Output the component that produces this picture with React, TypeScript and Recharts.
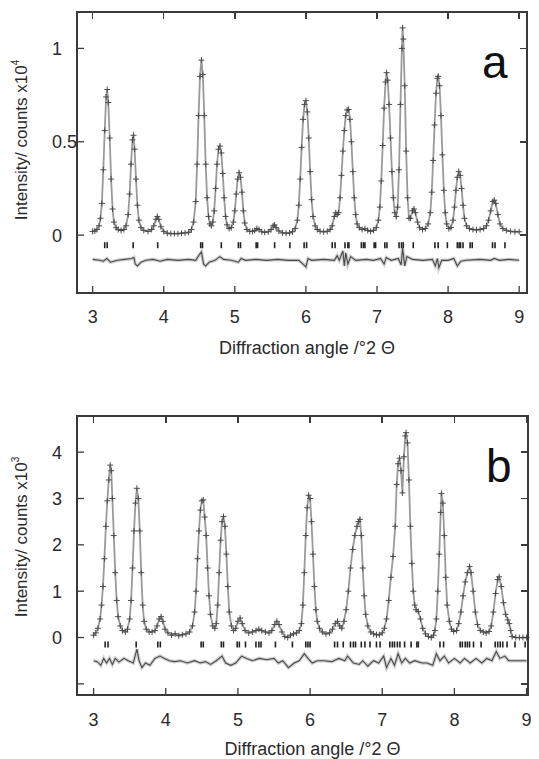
import React from 'react';
import { ComposedChart, Line, Scatter, XAxis, YAxis } from 'recharts';

// Panel a: observed profile (2θ, counts x10^4)
const OBS_A: [number, number][] = [
  [3.00, 0.020], [3.03, 0.022], [3.06, 0.030], [3.09, 0.050], [3.11, 0.090], [3.13, 0.170],
  [3.15, 0.350], [3.17, 0.560], [3.19, 0.740], [3.205, 0.780], [3.22, 0.710], [3.24, 0.520],
  [3.26, 0.300], [3.28, 0.140], [3.30, 0.070], [3.33, 0.040], [3.36, 0.030], [3.40, 0.025],
  [3.44, 0.030], [3.47, 0.050], [3.50, 0.110], [3.52, 0.220], [3.54, 0.380], [3.56, 0.510],
  [3.575, 0.535], [3.59, 0.460], [3.61, 0.300], [3.63, 0.160], [3.65, 0.080], [3.68, 0.040],
  [3.72, 0.025], [3.78, 0.020], [3.83, 0.030], [3.86, 0.050], [3.89, 0.085], [3.91, 0.100],
  [3.93, 0.085], [3.96, 0.045], [4.00, 0.020], [4.05, 0.010], [4.10, 0.008], [4.15, 0.008],
  [4.20, 0.008], [4.25, 0.010], [4.30, 0.012], [4.35, 0.015], [4.39, 0.030], [4.42, 0.070],
  [4.45, 0.180], [4.47, 0.380], [4.49, 0.640], [4.51, 0.850], [4.53, 0.937], [4.55, 0.860],
  [4.57, 0.640], [4.59, 0.380], [4.61, 0.200], [4.63, 0.100], [4.65, 0.060], [4.67, 0.050],
  [4.69, 0.070], [4.71, 0.130], [4.73, 0.250], [4.75, 0.380], [4.77, 0.460], [4.79, 0.477],
  [4.81, 0.440], [4.83, 0.330], [4.85, 0.200], [4.87, 0.100], [4.89, 0.055], [4.92, 0.035],
  [4.95, 0.040], [4.98, 0.070], [5.00, 0.130], [5.02, 0.220], [5.04, 0.300], [5.06, 0.334],
  [5.08, 0.310], [5.10, 0.230], [5.12, 0.130], [5.14, 0.065], [5.17, 0.030], [5.21, 0.020],
  [5.25, 0.020], [5.28, 0.025], [5.31, 0.035], [5.34, 0.030], [5.38, 0.018], [5.42, 0.015],
  [5.47, 0.018], [5.51, 0.030], [5.54, 0.050], [5.56, 0.054], [5.58, 0.040], [5.62, 0.022],
  [5.67, 0.012], [5.72, 0.010], [5.77, 0.012], [5.81, 0.018], [5.85, 0.035], [5.88, 0.080],
  [5.90, 0.160], [5.92, 0.300], [5.94, 0.470], [5.96, 0.620], [5.98, 0.700], [6.00, 0.720],
  [6.02, 0.660], [6.04, 0.520], [6.06, 0.340], [6.08, 0.190], [6.10, 0.100], [6.13, 0.050],
  [6.16, 0.030], [6.20, 0.020], [6.25, 0.018], [6.30, 0.020], [6.34, 0.030], [6.37, 0.050],
  [6.40, 0.100], [6.42, 0.120], [6.44, 0.110], [6.46, 0.120], [6.48, 0.200], [6.50, 0.320],
  [6.52, 0.450], [6.54, 0.560], [6.56, 0.640], [6.58, 0.670], [6.60, 0.673], [6.62, 0.620],
  [6.64, 0.500], [6.66, 0.340], [6.68, 0.200], [6.70, 0.110], [6.72, 0.060], [6.75, 0.040],
  [6.79, 0.030], [6.83, 0.035], [6.87, 0.025], [6.91, 0.020], [6.95, 0.025], [6.99, 0.040],
  [7.02, 0.080], [7.04, 0.150], [7.06, 0.290], [7.08, 0.480], [7.10, 0.680], [7.12, 0.820],
  [7.135, 0.870], [7.15, 0.830], [7.17, 0.700], [7.19, 0.520], [7.21, 0.340], [7.23, 0.200],
  [7.25, 0.120], [7.27, 0.100], [7.29, 0.150], [7.31, 0.350], [7.33, 0.700], [7.35, 1.000],
  [7.36, 1.110], [7.37, 1.050], [7.39, 0.800], [7.41, 0.450], [7.43, 0.200], [7.45, 0.090],
  [7.47, 0.090], [7.50, 0.130], [7.52, 0.140], [7.54, 0.120], [7.57, 0.070], [7.60, 0.040],
  [7.64, 0.030], [7.68, 0.035], [7.72, 0.060], [7.75, 0.120], [7.77, 0.230], [7.79, 0.400],
  [7.81, 0.590], [7.83, 0.760], [7.85, 0.840], [7.86, 0.850], [7.88, 0.800], [7.90, 0.640],
  [7.92, 0.430], [7.94, 0.240], [7.96, 0.120], [7.98, 0.060], [8.01, 0.035], [8.04, 0.040],
  [8.07, 0.080], [8.09, 0.150], [8.11, 0.240], [8.13, 0.310], [8.15, 0.340], [8.17, 0.320],
  [8.19, 0.250], [8.21, 0.160], [8.23, 0.090], [8.26, 0.050], [8.30, 0.035], [8.35, 0.030],
  [8.40, 0.028], [8.45, 0.030], [8.50, 0.035], [8.54, 0.050], [8.57, 0.080], [8.60, 0.130],
  [8.63, 0.180], [8.65, 0.187], [8.67, 0.170], [8.70, 0.110], [8.73, 0.060], [8.77, 0.035],
  [8.82, 0.025], [8.88, 0.020], [8.94, 0.018], [9.00, 0.018],
];

// Panel a: obs - calc residual
const DIFF_A: [number, number][] = [
  [3.00, 0.005], [3.10, 0.000], [3.15, -0.005], [3.20, 0.010], [3.25, -0.010], [3.35, 0.000],
  [3.45, 0.005], [3.55, 0.010], [3.58, 0.015], [3.60, -0.020], [3.63, -0.030], [3.68, -0.010],
  [3.75, 0.000], [3.85, 0.005], [3.95, -0.005], [4.05, 0.005], [4.20, 0.000], [4.35, 0.005],
  [4.45, 0.000], [4.50, 0.030], [4.53, 0.045], [4.56, -0.020], [4.59, -0.030], [4.64, -0.010],
  [4.72, 0.000], [4.79, 0.020], [4.84, 0.005], [4.95, 0.000], [5.05, -0.010], [5.09, 0.010],
  [5.15, 0.000], [5.30, 0.005], [5.45, 0.000], [5.60, 0.005], [5.75, 0.000], [5.90, 0.000],
  [5.96, -0.020], [6.00, -0.035], [6.03, 0.010], [6.08, 0.000], [6.25, 0.005], [6.40, 0.000],
  [6.44, 0.025], [6.47, 0.000], [6.52, 0.050], [6.54, -0.030], [6.56, 0.040], [6.59, -0.020],
  [6.63, 0.020], [6.70, 0.000], [6.85, 0.005], [6.95, 0.000], [7.05, 0.010], [7.10, -0.020],
  [7.13, 0.015], [7.20, 0.000], [7.30, 0.010], [7.34, -0.025], [7.36, 0.065], [7.39, -0.030],
  [7.42, 0.020], [7.50, 0.005], [7.65, 0.000], [7.78, 0.005], [7.82, -0.030], [7.85, 0.010],
  [7.87, -0.040], [7.91, 0.000], [8.00, 0.000], [8.08, 0.010], [8.13, -0.030], [8.18, -0.005],
  [8.25, 0.000], [8.45, 0.005], [8.60, 0.000], [8.65, 0.010], [8.72, 0.000], [8.85, 0.005],
  [9.00, 0.000],
];

// Panel a: reflection positions
const REFL_A = [
  3.17, 3.205, 3.57, 3.915, 4.52, 4.545, 4.81, 5.05, 5.08, 5.30, 5.32, 5.56, 5.775,
  5.975, 6.01, 6.37, 6.41, 6.55, 6.59, 6.605, 6.78, 6.81, 6.83, 6.96, 6.98, 7.11, 7.14,
  7.31, 7.345, 7.37, 7.51, 7.815, 7.86, 7.99, 8.13, 8.155, 8.175, 8.21, 8.31, 8.34,
  8.625, 8.66, 8.80,
];

// Panel b: observed profile (2θ, counts x10^3)
const OBS_B: [number, number][] = [
  [3.00, 0.05], [3.03, 0.10], [3.06, 0.20], [3.09, 0.40], [3.11, 0.70], [3.13, 1.10],
  [3.15, 1.70], [3.17, 2.40], [3.19, 2.95], [3.21, 3.40], [3.23, 3.72], [3.245, 3.60],
  [3.26, 3.00], [3.28, 2.20], [3.30, 1.40], [3.32, 0.80], [3.34, 0.45], [3.37, 0.25],
  [3.40, 0.15], [3.44, 0.12], [3.47, 0.18], [3.50, 0.40], [3.52, 0.80], [3.54, 1.50],
  [3.56, 2.30], [3.58, 2.90], [3.60, 3.22], [3.62, 3.00], [3.64, 2.30], [3.66, 1.40],
  [3.68, 0.70], [3.70, 0.35], [3.73, 0.18], [3.77, 0.12], [3.81, 0.12], [3.85, 0.15],
  [3.88, 0.25], [3.91, 0.40], [3.935, 0.45], [3.96, 0.35], [3.99, 0.18], [4.03, 0.10],
  [4.08, 0.05], [4.13, 0.08], [4.18, 0.04], [4.23, 0.06], [4.28, 0.08], [4.33, 0.12],
  [4.37, 0.25], [4.40, 0.55], [4.42, 1.00], [4.44, 1.70], [4.46, 2.30], [4.48, 2.75],
  [4.50, 2.95], [4.52, 2.97], [4.54, 2.60], [4.56, 2.20], [4.58, 1.50], [4.60, 0.90],
  [4.62, 0.50], [4.65, 0.25], [4.68, 0.20], [4.70, 0.30], [4.72, 0.70], [4.74, 1.40],
  [4.76, 2.10], [4.78, 2.50], [4.80, 2.61], [4.82, 2.40], [4.84, 1.80], [4.86, 1.10],
  [4.88, 0.55], [4.91, 0.25], [4.94, 0.15], [4.97, 0.20], [5.00, 0.35], [5.03, 0.42],
  [5.06, 0.30], [5.10, 0.15], [5.15, 0.10], [5.20, 0.12], [5.25, 0.15], [5.29, 0.18],
  [5.33, 0.15], [5.38, 0.12], [5.43, 0.10], [5.47, 0.15], [5.51, 0.28], [5.54, 0.35],
  [5.57, 0.28], [5.61, 0.12], [5.65, 0.02], [5.69, 0.00], [5.73, 0.05], [5.77, 0.08],
  [5.81, 0.10], [5.85, 0.15], [5.88, 0.30], [5.90, 0.70], [5.92, 1.40], [5.94, 2.20],
  [5.96, 2.80], [5.98, 3.07], [6.00, 3.00], [6.02, 2.50], [6.04, 1.80], [6.06, 1.10],
  [6.08, 0.60], [6.10, 0.35], [6.13, 0.20], [6.17, 0.12], [6.22, 0.08], [6.27, 0.10],
  [6.31, 0.18], [6.35, 0.30], [6.38, 0.35], [6.41, 0.25], [6.44, 0.20], [6.47, 0.35],
  [6.50, 0.60], [6.53, 1.00], [6.56, 1.50], [6.59, 1.90], [6.62, 2.20], [6.65, 2.40],
  [6.67, 2.50], [6.69, 2.55], [6.71, 2.20], [6.73, 1.50], [6.75, 0.90], [6.77, 0.50],
  [6.80, 0.25], [6.84, 0.12], [6.88, 0.08], [6.92, 0.06], [6.96, 0.06], [7.00, 0.10],
  [7.03, 0.20], [7.06, 0.40], [7.09, 0.80], [7.12, 1.30], [7.15, 1.75], [7.18, 2.40],
  [7.20, 3.30], [7.22, 3.75], [7.24, 3.87], [7.26, 3.60], [7.28, 3.12], [7.30, 3.90],
  [7.32, 4.35], [7.33, 4.42], [7.35, 4.20], [7.37, 3.40], [7.39, 2.40], [7.41, 1.60],
  [7.43, 1.00], [7.45, 0.70], [7.47, 0.60], [7.50, 0.56], [7.53, 0.40], [7.56, 0.20],
  [7.60, 0.08], [7.64, 0.02], [7.68, 0.00], [7.71, 0.05], [7.73, 0.15], [7.75, 0.40],
  [7.77, 1.00], [7.79, 1.80], [7.81, 2.70], [7.82, 3.11], [7.84, 2.90], [7.86, 2.20],
  [7.88, 1.30], [7.90, 0.70], [7.93, 0.35], [7.96, 0.18], [7.99, 0.13], [8.03, 0.15],
  [8.06, 0.30], [8.09, 0.55], [8.12, 0.90], [8.15, 1.20], [8.18, 1.40], [8.21, 1.53],
  [8.23, 1.40], [8.26, 1.00], [8.29, 0.55], [8.32, 0.28], [8.36, 0.15], [8.40, 0.12],
  [8.44, 0.10], [8.48, 0.13], [8.51, 0.25], [8.54, 0.55], [8.57, 0.95], [8.60, 1.25],
  [8.62, 1.31], [8.65, 1.10], [8.68, 0.75], [8.71, 0.50], [8.74, 0.38], [8.76, 0.30],
  [8.78, 0.15], [8.80, 0.02], [8.85, 0.00], [8.90, 0.00], [8.95, 0.00], [9.00, 0.00],
];

// Panel b: obs - calc residual
const DIFF_B: [number, number][] = [
  [3.00, 0.00], [3.05, -0.02], [3.10, -0.10], [3.14, 0.05], [3.18, -0.05], [3.22, 0.05],
  [3.26, -0.08], [3.30, 0.05], [3.35, -0.03], [3.42, 0.05], [3.48, 0.00], [3.55, -0.05],
  [3.60, 0.25], [3.63, 0.00], [3.67, -0.15], [3.72, -0.05], [3.78, -0.10], [3.85, 0.05],
  [3.92, 0.10], [3.98, 0.05], [4.05, 0.00], [4.12, -0.02], [4.20, 0.00], [4.30, -0.05],
  [4.40, 0.00], [4.48, -0.05], [4.55, -0.02], [4.62, -0.08], [4.70, 0.00], [4.78, 0.10],
  [4.83, -0.05], [4.90, -0.10], [4.97, -0.05], [5.05, 0.10], [5.12, 0.05], [5.20, 0.00],
  [5.30, 0.05], [5.40, 0.02], [5.50, 0.05], [5.56, -0.05], [5.62, 0.00], [5.70, -0.15],
  [5.78, -0.05], [5.85, 0.00], [5.92, 0.15], [5.97, 0.05], [6.03, -0.05], [6.10, 0.00],
  [6.20, 0.00], [6.30, -0.02], [6.40, 0.05], [6.48, 0.00], [6.52, 0.10], [6.60, -0.05],
  [6.68, -0.08], [6.73, 0.00], [6.80, -0.12], [6.88, 0.00], [6.95, -0.05], [7.02, 0.10],
  [7.06, -0.15], [7.12, 0.05], [7.17, -0.10], [7.22, 0.15], [7.27, -0.05], [7.32, 0.05],
  [7.38, -0.05], [7.45, 0.00], [7.55, -0.05], [7.62, -0.05], [7.70, -0.10], [7.75, 0.15],
  [7.80, 0.00], [7.86, 0.10], [7.92, -0.05], [8.00, 0.05], [8.08, -0.05], [8.14, 0.05],
  [8.22, -0.05], [8.30, 0.05], [8.38, -0.05], [8.45, 0.05], [8.52, 0.00], [8.58, 0.20],
  [8.63, 0.05], [8.70, 0.10], [8.75, 0.00], [8.85, 0.00], [9.00, 0.00],
];

// Panel b: reflection positions
const REFL_B = [
  3.16, 3.20, 3.59, 3.89, 3.925, 4.49, 4.52, 4.77, 4.80, 4.99, 5.02, 5.105, 5.25, 5.29,
  5.32, 5.52, 5.755, 5.94, 5.97, 6.00, 6.34, 6.38, 6.46, 6.56, 6.60, 6.63, 6.71, 6.76,
  6.83, 6.92, 6.97, 7.105, 7.14, 7.17, 7.21, 7.245, 7.31, 7.40, 7.48, 7.50, 7.80, 7.85,
  8.08, 8.11, 8.15, 8.18, 8.21, 8.265, 8.37, 8.565, 8.60, 8.635, 8.67, 8.73, 8.84, 8.98,
];

const X_TICKS = [3, 4, 5, 6, 7, 8, 9];
const Y_TICKS_A = [0, 0.5, 1];
const Y_TICKS_B = [-1, 0, 1, 2, 3, 4];

const W = 539;
const Y_AXIS_W = 77;
const FONT = 'Liberation Sans, Arial, Helvetica, sans-serif';
const INK = '#2a2a2a';
const FRAME = '#3a3a3a';
const TICK = 7;

const toPts = (rows: [number, number][], shift = 0) => rows.map(([x, y]) => ({ x, y: y + shift }));

const Cross = (props: any) => {
  const { cx, cy } = props;
  if (cx == null || cy == null) return null;
  return (
    <g stroke="#4a4a4a" strokeWidth={1}>
      <line x1={cx - 3} x2={cx + 3} y1={cy} y2={cy} />
      <line x1={cx} x2={cx} y1={cy - 3} y2={cy + 3} />
    </g>
  );
};

const Bar = (props: any) => {
  const { cx, cy } = props;
  if (cx == null || cy == null) return null;
  return <line x1={cx} x2={cx} y1={cy - 3} y2={cy + 3} stroke="#222" strokeWidth={1.6} />;
};

// tickSize is negative (ticks point inward), so the label anchor sits TICK px inside
const bottomTick = (dy: number) => (props: any) => {
  const { x, y, payload } = props;
  return (
    <text x={x} y={y + TICK + dy} textAnchor="middle" fontSize={18} fontFamily={FONT} fill={INK}>
      {payload.value}
    </text>
  );
};

const leftTick = (hide: number[]) => (props: any) => {
  const { x, y, payload } = props;
  if (hide.includes(payload.value)) return <g />;
  return (
    <text x={x - TICK - 25} y={y + 6.5} textAnchor="start" fontSize={18} fontFamily={FONT} fill={INK}>
      {payload.value}
    </text>
  );
};

interface PanelProps {
  top: number;
  height: number;
  margin: { top: number; right: number; bottom: number; left: number };
  xAxisHeight: number;
  xDomain: [number, number];
  yDomain: [number, number];
  yTicks: number[];
  hideY: number[];
  obs: [number, number][];
  diff: [number, number][];
  diffOffset: number;
  refl: number[];
  reflY: number;
  exponent: string;
  letter: string;
  letterPos: [number, number];
  yLabelCenter: number;
  tickDy: number;
  xLabelDy: number;
  xLabelShift: number;
}

// box border (plain css) plus mirrored ticks on the top and right sides
function FrameOverlay(p: PanelProps) {
  const left = p.margin.left + Y_AXIS_W;
  const right = W - p.margin.right;
  const top = p.margin.top;
  const bottom = p.height - p.xAxisHeight;
  const sx = (v: number) => left + ((v - p.xDomain[0]) / (p.xDomain[1] - p.xDomain[0])) * (right - left);
  const sy = (v: number) => bottom - ((v - p.yDomain[0]) / (p.yDomain[1] - p.yDomain[0])) * (bottom - top);
  return (
    <>
      <div
        style={{
          position: 'absolute',
          left: left - 1,
          top: top - 1,
          width: right - left + 2,
          height: bottom - top + 2,
          border: `2px solid ${FRAME}`,
          boxSizing: 'border-box',
          pointerEvents: 'none',
        }}
      />
      {X_TICKS.map((v) => (
        <div
          key={`t${v}`}
          style={{ position: 'absolute', left: sx(v) - 0.75, top, width: 1.5, height: TICK, background: FRAME }}
        />
      ))}
      {p.yTicks.map((v) => (
        <div
          key={`r${v}`}
          style={{ position: 'absolute', left: right - TICK, top: sy(v) - 0.75, width: TICK, height: 1.5, background: FRAME }}
        />
      ))}
    </>
  );
}

function Panel(p: PanelProps) {
  const obs = toPts(p.obs);
  const diff = toPts(p.diff, p.diffOffset);
  const refl = p.refl.map((x) => ({ x, y: p.reflY }));
  const axisLine = { stroke: FRAME, strokeWidth: 1.5 };
  const tickLine = { stroke: FRAME, strokeWidth: 1.3 };

  return (
    <div style={{ position: 'absolute', left: 0, top: p.top, width: W, height: p.height }}>
      <ComposedChart width={W} height={p.height} margin={p.margin}>
        <XAxis
          dataKey="x"
          type="number"
          domain={p.xDomain}
          ticks={X_TICKS}
          height={p.xAxisHeight}
          tickSize={-TICK}
          tickMargin={0}
          tickLine={tickLine}
          axisLine={axisLine}
          tick={bottomTick(p.tickDy)}
          label={{
            content: (lp: any) => {
              const vb = lp.viewBox;
              return (
                <g>
                  <text
                    x={vb.x + vb.width / 2 + p.xLabelShift}
                    y={vb.y + p.xLabelDy}
                    textAnchor="middle"
                    fontSize={18}
                    fontFamily={FONT}
                    fill={INK}
                  >
                    Diffraction angle /°2 Θ
                  </text>
                  <text x={p.letterPos[0]} y={p.letterPos[1]} fontSize={46} fontFamily={FONT} fill="#111">
                    {p.letter}
                  </text>
                </g>
              );
            },
          }}
        />
        <YAxis
          dataKey="y"
          type="number"
          domain={p.yDomain}
          ticks={p.yTicks}
          width={Y_AXIS_W}
          tickSize={-TICK}
          tickMargin={0}
          tickLine={tickLine}
          axisLine={axisLine}
          tick={leftTick(p.hideY)}
          label={{
            content: () => (
              <text
                x={27}
                y={p.yLabelCenter}
                transform={`rotate(-90 27 ${p.yLabelCenter})`}
                textAnchor="middle"
                fontSize={17}
                fontFamily={FONT}
                fill={INK}
              >
                Intensity/ counts x10
                <tspan dy={-8} fontSize={10}>
                  {p.exponent}
                </tspan>
              </text>
            ),
          }}
        />
        <Line
          data={diff}
          dataKey="y"
          type="linear"
          stroke="#cfcfcf"
          strokeWidth={3.5}
          dot={false}
          isAnimationActive={false}
        />
        <Line
          data={diff}
          dataKey="y"
          type="linear"
          stroke="#4a4a4a"
          strokeWidth={1.1}
          dot={false}
          isAnimationActive={false}
        />
        <Line
          data={obs}
          dataKey="y"
          type="linear"
          stroke="#9a9a9a"
          strokeWidth={1.8}
          dot={false}
          isAnimationActive={false}
        />
        <Scatter data={obs} dataKey="y" shape={Cross} isAnimationActive={false} />
        <Scatter data={refl} dataKey="y" shape={Bar} isAnimationActive={false} />
      </ComposedChart>
      <FrameOverlay {...p} />
    </div>
  );
}

export default function App() {
  return (
    <div style={{ position: 'absolute', left: 0, top: 0, width: W, height: 759, background: '#fff' }}>
      <Panel
        top={0}
        height={380}
        margin={{ top: 12, right: 12, bottom: 0, left: 0 }}
        xAxisHeight={87}
        xDomain={[2.78, 9.11]}
        yDomain={[-0.31, 1.195]}
        yTicks={Y_TICKS_A}
        hideY={[]}
        obs={OBS_A}
        diff={DIFF_A}
        diffOffset={-0.135}
        refl={REFL_A}
        reflY={-0.054}
        exponent="4"
        letter="a"
        letterPos={[482, 78]}
        yLabelCenter={140}
        tickDy={30}
        xLabelDy={61}
        xLabelShift={5}
      />
      <Panel
        top={400}
        height={359}
        margin={{ top: 16, right: 11, bottom: 0, left: 0 }}
        xAxisHeight={64}
        xDomain={[2.77, 9.02]}
        yDomain={[-1.24, 4.78]}
        yTicks={Y_TICKS_B}
        hideY={[-1]}
        obs={OBS_B}
        diff={DIFF_B}
        diffOffset={-0.5}
        refl={REFL_B}
        reflY={-0.15}
        exponent="3"
        letter="b"
        letterPos={[486, 82]}
        yLabelCenter={137}
        tickDy={31}
        xLabelDy={60}
        xLabelShift={10}
      />
    </div>
  );
}
